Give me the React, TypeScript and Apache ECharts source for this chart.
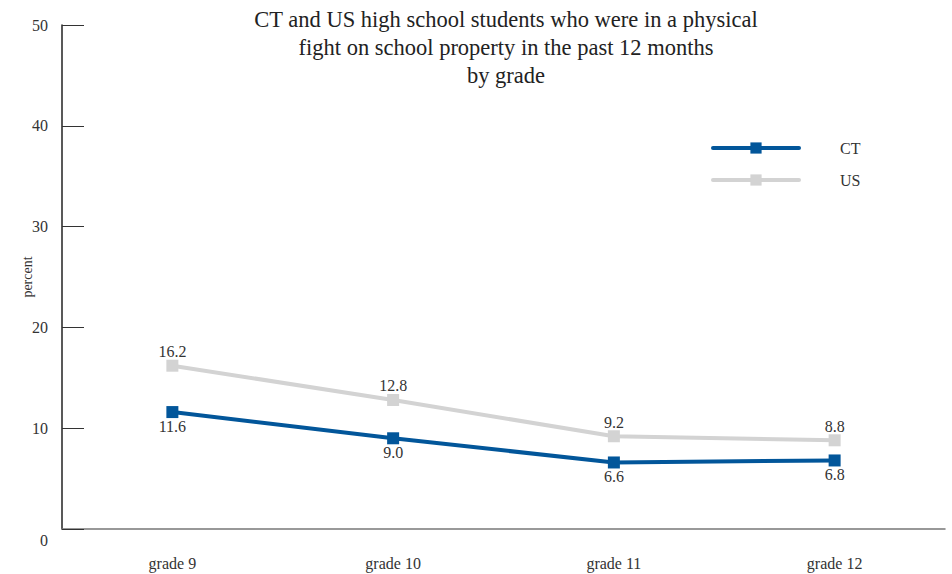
import React, { useEffect, useRef } from "react";
import * as echarts from "echarts";

const categories = ["grade 9", "grade 10", "grade 11", "grade 12"];
const ctValues = [11.6, 9.0, 6.6, 6.8];
const usValues = [16.2, 12.8, 9.2, 8.8];
const yTicks = [0, 10, 20, 30, 40, 50];

const FONT = "Liberation Serif, Times New Roman, DejaVu Serif, serif";
const CT_COLOR = "#02569A";
const US_COLOR = "#D3D3D3";

export default function App() {
  const ref = useRef<HTMLDivElement>(null);
  useEffect(() => {
    if (!ref.current) return;
    const chart = echarts.init(ref.current, undefined, { renderer: "svg" });
    chart.setOption({
      animation: false,
      backgroundColor: "#ffffff",
      textStyle: { fontFamily: FONT },
      title: {
        text: "CT and US high school students who were in a physical\nfight on school property in the past 12 months\nby grade",
        left: 501,
        top: 0,
        textAlign: "center",
        textStyle: {
          fontFamily: FONT,
          fontWeight: "normal",
          fontSize: 22.5,
          lineHeight: 28,
          color: "#222",
        },
      },
      legend: {
        orient: "vertical",
        left: 706,
        top: 135,
        itemWidth: 86,
        itemHeight: 14,
        itemGap: 16,
        data: ["CT", "US"],
        lineStyle: { width: 4, cap: "round" },
        textStyle: {
          fontFamily: FONT,
          fontSize: 16,
          color: "#333",
          padding: [0, 0, 0, 36],
        },
      },
      grid: { left: 62, right: 7, top: 25, bottom: 45, containLabel: false },
      xAxis: {
        type: "category",
        data: categories,
        boundaryGap: true,
        axisLine: { lineStyle: { color: "#777", width: 1.5 } },
        axisTick: {
          alignWithLabel: true,
          inside: true,
          length: 12,
          lineStyle: { color: "#555" },
        },
        axisLabel: {
          fontFamily: FONT,
          fontSize: 16,
          color: "#333",
          margin: 26,
        },
      },
      yAxis: {
        type: "value",
        min: 0,
        max: 50,
        interval: 10,
        name: "percent",
        nameLocation: "middle",
        nameGap: 28,
        nameMoveOverlap: false,
        nameTextStyle: { fontFamily: FONT, fontSize: 14, color: "#333" },
        splitLine: { show: false },
        axisLine: { show: true, lineStyle: { color: "#222", width: 1.5 } },
        axisTick: {
          show: true,
          inside: true,
          length: 22,
          lineStyle: { color: "#333" },
        },
        axisLabel: {
          fontFamily: FONT,
          fontSize: 16,
          color: "#333",
          margin: 14,
          formatter: (v: number) => (v === yTicks[0] ? "{z|" + v + "}" : String(v)),
          rich: { z: { fontFamily: FONT, fontSize: 16, color: "#333", padding: [22, 0, 0, 0] } },
        },
      },
      series: [
        {
          name: "CT",
          type: "line",
          data: ctValues,
          symbol: "rect",
          symbolSize: 12,
          lineStyle: { color: CT_COLOR, width: 4 },
          itemStyle: { color: CT_COLOR },
          label: {
            show: true,
            position: "bottom",
            distance: 0,
            fontFamily: FONT,
            fontSize: 16,
            color: "#333",
            formatter: (p: any) => Number(p.value).toFixed(1),
          },
        },
        {
          name: "US",
          type: "line",
          data: usValues,
          symbol: "rect",
          symbolSize: 12,
          lineStyle: { color: US_COLOR, width: 4 },
          itemStyle: { color: US_COLOR },
          label: {
            show: true,
            position: "top",
            distance: 0,
            fontFamily: FONT,
            fontSize: 16,
            color: "#333",
            formatter: (p: any) => Number(p.value).toFixed(1),
          },
        },
      ],
    });
    return () => chart.dispose();
  }, []);
  return <div ref={ref} style={{ width: 952, height: 574, position: "absolute", left: 0, top: 0 }} />;
}
